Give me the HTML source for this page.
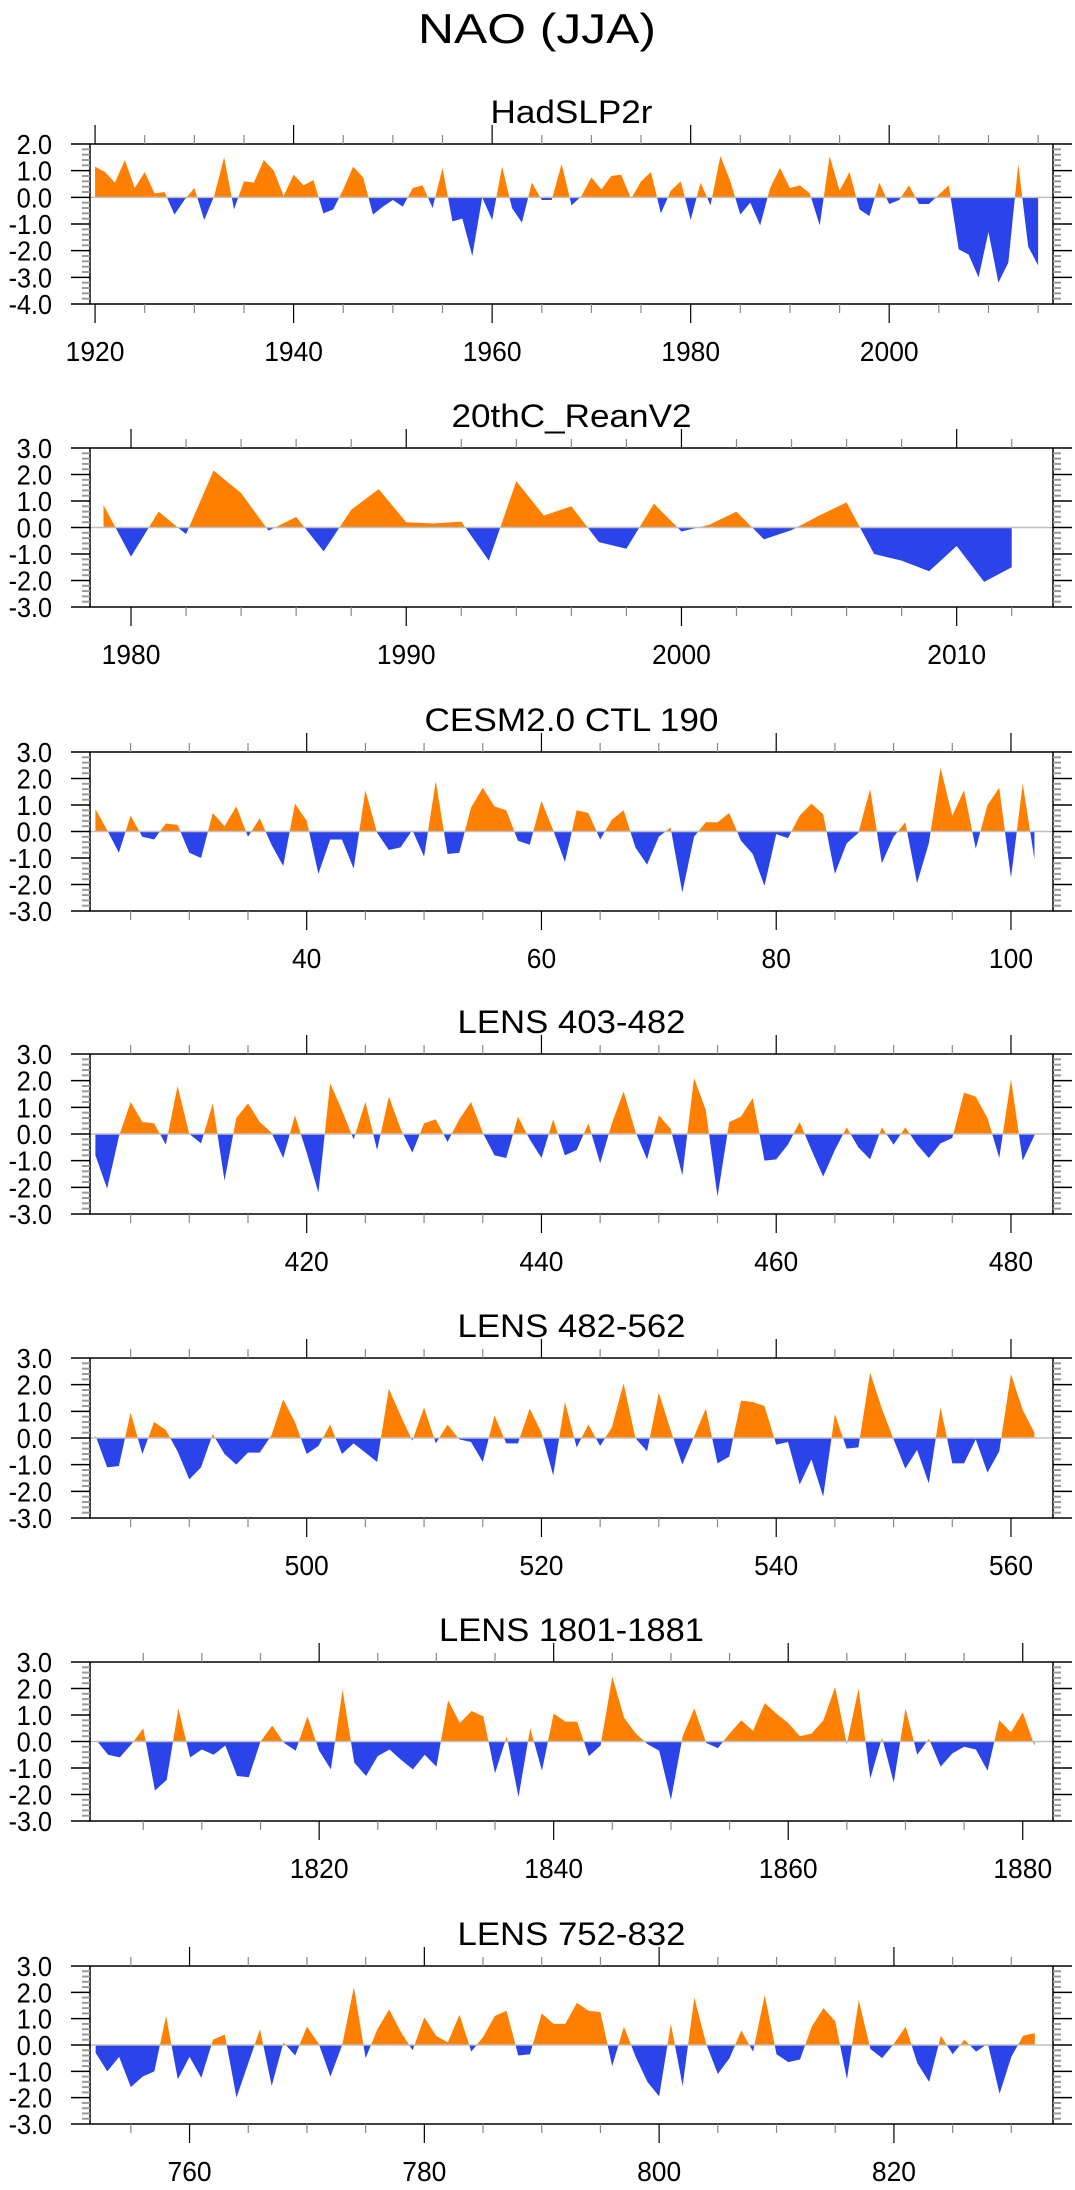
<!DOCTYPE html>
<html><head><meta charset="utf-8"><style>
html,body{margin:0;padding:0;background:#fff;}
svg{display:block;font-family:"Liberation Sans",sans-serif;}
</style></head><body>
<svg id="fig" width="1075" height="2190" viewBox="0 0 1075 2190" xmlns="http://www.w3.org/2000/svg">
<text x="537" y="43" font-size="42" text-anchor="middle" textLength="238" lengthAdjust="spacingAndGlyphs">NAO (JJA)</text>
</svg>
<script>
// ---- data ----
const hadStart = 1920;
const hadValues = [1.15,0.95,0.55,1.4,0.35,0.95,0.15,0.2,-0.65,-0.1,0.35,-0.85,0.05,1.5,-0.45,0.6,0.55,1.4,1.0,0.05,0.85,0.45,0.65,-0.6,-0.45,0.3,1.15,0.75,-0.65,-0.35,-0.1,-0.35,0.35,0.45,-0.4,1.1,-0.9,-0.8,-2.2,0.0,-0.85,1.15,-0.4,-0.95,0.55,-0.1,-0.1,1.25,-0.3,0.05,0.75,0.3,0.8,0.85,-0.05,0.6,0.95,-0.6,0.25,0.6,-0.85,0.55,-0.3,1.55,0.6,-0.65,-0.2,-1.05,0.35,1.1,0.35,0.45,0.15,-1.05,1.55,0.25,0.95,-0.45,-0.7,0.55,-0.25,-0.1,0.45,-0.25,-0.25,0.1,0.45,-1.95,-2.15,-3.0,-1.3,-3.2,-2.45,1.25,-1.85,-2.55];
const reanStart = 1979;
const reanValues = [0.85,-1.1,0.6,-0.25,2.15,1.3,-0.12,0.4,-0.9,0.67,1.45,0.2,0.15,0.22,-1.25,1.75,0.45,0.8,-0.55,-0.8,0.9,-0.15,0.1,0.6,-0.45,-0.1,0.45,0.95,-1.0,-1.25,-1.65,-0.7,-2.05,-1.5];
const cesmStart = 22;
const cesmValues = [0.85,0.05,-0.8,0.6,-0.2,-0.3,0.3,0.25,-0.8,-1.0,0.7,0.2,0.95,-0.2,0.5,-0.5,-1.3,1.05,0.4,-1.6,-0.3,-0.3,-1.4,1.55,-0.05,-0.7,-0.6,0.05,-0.95,1.9,-0.85,-0.8,0.9,1.65,0.95,0.8,-0.35,-0.5,1.15,0.05,-1.15,0.8,0.7,-0.3,0.45,0.8,-0.6,-1.25,-0.2,0.15,-2.3,-0.2,0.35,0.35,0.7,-0.35,-0.85,-2.05,-0.1,-0.25,0.6,1.05,0.65,-1.6,-0.45,-0.05,1.6,-1.2,-0.2,0.35,-1.95,-0.45,2.4,0.6,1.55,-0.65,1.0,1.65,-1.75,1.8,-1.05];
const lensAStart = 402;
const lensAValues = [-0.8,-2.05,-0.1,1.2,0.45,0.4,-0.4,1.8,0.0,-0.35,1.15,-1.75,0.6,1.15,0.45,0.05,-0.9,0.7,-0.7,-2.2,1.9,0.9,-0.2,1.2,-0.6,1.4,0.2,-0.7,0.4,0.55,-0.3,0.55,1.2,0.05,-0.8,-0.9,0.65,-0.2,-0.9,0.55,-0.8,-0.6,0.4,-1.1,0.4,1.6,0.1,-0.95,0.7,0.2,-1.55,2.1,0.9,-2.35,0.45,0.65,1.35,-1.0,-0.95,-0.4,0.45,-0.6,-1.6,-0.6,0.25,-0.5,-0.95,0.25,-0.4,0.25,-0.4,-0.9,-0.35,-0.15,1.55,1.4,0.6,-0.9,2.05,-1.0,-0.05];
const lensBStart = 482;
const lensBValues = [0.1,-1.1,-1.05,0.95,-0.6,0.6,0.3,-0.5,-1.55,-1.1,0.15,-0.6,-1.0,-0.55,-0.55,0.1,1.45,0.6,-0.6,-0.3,0.5,-0.6,-0.2,-0.55,-0.9,1.85,0.85,-0.1,1.15,-0.2,0.5,-0.05,-0.15,-0.9,0.85,-0.2,-0.2,1.1,0.2,-1.4,1.35,-0.35,0.5,-0.3,0.4,2.05,0.0,-0.5,1.7,0.3,-1.0,0.05,1.1,-0.95,-0.7,1.4,1.35,1.2,-0.25,-0.15,-1.75,-0.8,-2.2,0.9,-0.4,-0.35,2.45,1.1,-0.05,-1.15,-0.45,-1.7,1.15,-0.95,-0.95,-0.05,-1.3,-0.5,2.4,1.05,0.2];
const lensCStart = 1801;
const lensCValues = [0.05,-0.5,-0.6,-0.1,0.5,-1.85,-1.45,1.25,-0.6,-0.3,-0.5,-0.15,-1.3,-1.35,0.0,0.6,-0.05,-0.35,0.95,-0.35,-1.05,1.95,-0.8,-1.3,-0.55,-0.3,-0.7,-1.05,-0.5,-0.95,1.55,0.7,1.15,0.95,-1.2,0.2,-2.1,0.5,-1.1,1.05,0.75,0.75,-0.55,-0.15,2.45,0.9,0.3,-0.1,-0.35,-2.2,0.2,1.25,-0.05,-0.25,0.3,0.8,0.4,1.45,1.05,0.7,0.2,0.3,0.8,2.05,-0.1,2.0,-1.4,0.15,-1.55,1.25,-0.5,0.1,-0.95,-0.45,-0.2,-0.3,-1.1,0.8,0.35,1.1,-0.15];
const lensDStart = 752;
const lensDValues = [-0.3,-1.0,-0.45,-1.6,-1.2,-1.0,1.1,-1.3,-0.45,-1.25,0.2,0.4,-2.0,-0.7,0.6,-1.55,0.1,-0.4,0.7,0.05,-1.2,0.0,2.2,-0.5,0.6,1.35,0.5,-0.2,1.05,0.35,0.1,1.15,-0.25,0.3,1.1,1.3,-0.4,-0.35,1.2,0.8,0.8,1.6,1.3,1.25,-0.8,0.7,-0.45,-1.4,-1.95,0.8,-1.55,1.8,0.05,-1.1,-0.5,0.55,-0.25,1.9,-0.35,-0.65,-0.55,0.7,1.4,0.9,-1.3,1.7,-0.15,-0.5,0.05,0.7,-0.7,-1.4,0.35,-0.35,0.2,-0.25,0.05,-1.85,-0.45,0.35,0.45];
const panelTitles = ["HadSLP2r","20thC_ReanV2","CESM2.0 CTL 190","LENS 403-482","LENS 482-562","LENS 1801-1881","LENS 752-832"];
const xTickLabelsA = [1920,1940,1960,1980,2000];
const xTickLabelsB = [1980,1990,2000,2010];
const xTickLabelsC = [40,60,80,100];
const xTickLabelsD = [420,440,460,480];
const xTickLabelsE = [500,520,540,560];
const xTickLabelsF = [1820,1840,1860,1880];
const xTickLabelsG = [760,780,800,820];
const yTickLabels1 = [2,1,0,-1,-2,-3,-4];
const yTickLabels2 = [3,2,1,0,-1,-2,-3];

// ---- layout ----
const NS = "http://www.w3.org/2000/svg";
const svg = document.getElementById('fig');
const BX0 = 90, BX1 = 1053;
const panels = [
 {start:hadStart, vals:hadValues, top:144, bot:304, ymin:-4, ymax:2, yt:yTickLabels1, xmin:1919.49, xmax:2016.5, xt:xTickLabelsA, major:20, minor:5, title:panelTitles[0], tw:162},
 {start:reanStart, vals:reanValues, top:448, bot:607, ymin:-3, ymax:3, yt:yTickLabels2, xmin:1978.51, xmax:2013.5, xt:xTickLabelsB, major:10, minor:2, title:panelTitles[1], tw:240},
 {start:cesmStart, vals:cesmValues, top:752, bot:911, ymin:-3, ymax:3, yt:yTickLabels2, xmin:21.54, xmax:103.58, xt:xTickLabelsC, major:20, minor:5, title:panelTitles[2], tw:294},
 {start:lensAStart, vals:lensAValues, top:1054, bot:1214, ymin:-3, ymax:3, yt:yTickLabels2, xmin:401.54, xmax:483.58, xt:xTickLabelsD, major:20, minor:5, title:panelTitles[3], tw:228},
 {start:lensBStart, vals:lensBValues, top:1358, bot:1518, ymin:-3, ymax:3, yt:yTickLabels2, xmin:481.54, xmax:563.58, xt:xTickLabelsE, major:20, minor:5, title:panelTitles[4], tw:228},
 {start:lensCStart, vals:lensCValues, top:1662, bot:1821, ymin:-3, ymax:3, yt:yTickLabels2, xmin:1800.46, xmax:1882.58, xt:xTickLabelsF, major:20, minor:5, title:panelTitles[5], tw:265},
 {start:lensDStart, vals:lensDValues, top:1966, bot:2124, ymin:-3, ymax:3, yt:yTickLabels2, xmin:751.52, xmax:833.55, xt:xTickLabelsG, major:20, minor:5, title:panelTitles[6], tw:228}
];
function mk(tag, attrs, parent){
  const e = document.createElementNS(NS, tag);
  for (const k in attrs) e.setAttribute(k, attrs[k]);
  (parent||svg).appendChild(e);
  return e;
}
function labelWidth(s){
  let w = 0;
  for (const c of s) w += (c === '.') ? 6 : (c === '-') ? 8 : 14.7;
  return w;
}
panels.forEach((p, pi) => {
  const g = mk('g', {});
  
  
  const sx = v => BX0 + (v - p.xmin) / (p.xmax - p.xmin) * (BX1 - BX0);
  const sy = v => p.bot - (v - p.ymin) / (p.ymax - p.ymin) * (p.bot - p.top);
  const t = mk('text', {x:571.5, y:p.top-21, 'font-size':32, 'text-anchor':'middle', textLength:p.tw, lengthAdjust:'spacingAndGlyphs'}, g);
  t.textContent = p.title;
  
  
  const y0 = sy(0);
  let d = 'M' + sx(p.start) + ',' + y0;
  p.vals.forEach((v, i) => { d += ' L' + sx(p.start + i).toFixed(2) + ',' + sy(v).toFixed(2); });
  d += ' L' + sx(p.start + p.vals.length - 1) + ',' + y0 + ' Z';
  const cidA = 'ca' + pi, cidB = 'cb' + pi;
  const defs = mk('defs', {}, g);
  const cA = mk('clipPath', {id:cidA}, defs); mk('rect', {x:0, y:p.top-50, width:1075, height:y0-p.top+50}, cA);
  const cB = mk('clipPath', {id:cidB}, defs); mk('rect', {x:0, y:y0, width:1075, height:p.bot-y0+50}, cB);
  const pos = mk('path', {d:d, fill:'#ff8000', 'clip-path':'url(#'+cidA+')'}, g);
  
  
  const neg = mk('path', {d:d, fill:'#2a44ea', 'clip-path':'url(#'+cidB+')'}, g);
  
  
  const zl = mk('line', {x1:BX0, x2:BX1, y1:y0, y2:y0, stroke:'#c0c0c0', 'stroke-width':1.5}, g);
  
  
  const box = mk('rect', {x:BX0, y:p.top, width:BX1-BX0, height:p.bot-p.top, fill:'none', stroke:'#000', 'stroke-width':1.5}, g);
  
  
  const first = Math.ceil(p.xmin / p.minor) * p.minor;
  for (let v = first; v <= p.xmax; v += p.minor) {
    const x = sx(v);
    const isMaj = Math.abs(v % p.major) < 1e-6;
    const len = isMaj ? 19 : 9;
    mk('line', {x1:x, x2:x, y1:p.bot, y2:p.bot+len, stroke:isMaj?'#000':'#888', 'stroke-width':1.2}, g);
    mk('line', {x1:x, x2:x, y1:p.top, y2:p.top-len, stroke:isMaj?'#000':'#888', 'stroke-width':1.2}, g);
  }
  p.xt.forEach(v => {
    const s = String(v);
    const tl = mk('text', {x:sx(v), y:p.bot+57, 'font-size':28, 'text-anchor':'middle', textLength:labelWidth(s), lengthAdjust:'spacingAndGlyphs'}, g);
    tl.textContent = s;
    
    
  });
  for (let k = Math.round(p.ymin*5); k <= Math.round(p.ymax*5); k++) {
    const y = sy(k/5);
    const isMaj = k % 5 === 0;
    const len = isMaj ? 19 : 8;
    mk('line', {x1:BX0-len, x2:BX0, y1:y, y2:y, stroke:isMaj?'#000':'#999', 'stroke-width':isMaj?1.5:2}, g);
    mk('line', {x1:BX1, x2:BX1+len, y1:y, y2:y, stroke:isMaj?'#000':'#999', 'stroke-width':isMaj?1.5:2}, g);
  }
  p.yt.forEach(v => {
    const s = v.toFixed(1);
    const tl = mk('text', {x:52, y:sy(v)+10, 'font-size':28, 'text-anchor':'end', textLength:labelWidth(s), lengthAdjust:'spacingAndGlyphs'}, g);
    tl.textContent = s;
    
    
  });
});
</script>
</body></html>
